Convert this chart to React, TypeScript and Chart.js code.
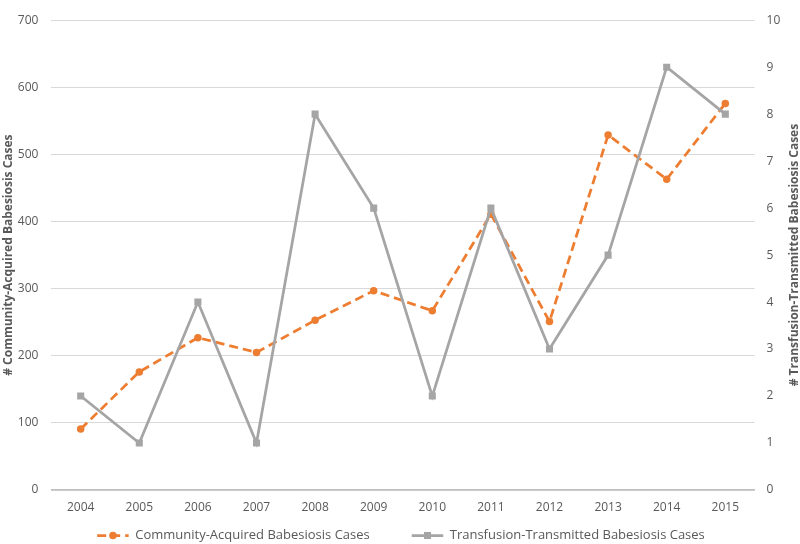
import React, { useEffect, useRef } from "react";
import { Chart, registerables } from "chart.js";

Chart.register(...registerables);

const years = ["2004", "2005", "2006", "2007", "2008", "2009", "2010", "2011", "2012", "2013", "2014", "2015"];
const communityCases = [91, 176, 227, 205, 253, 297, 267, 411, 251, 529, 463, 576];
const transfusionCases = [2, 1, 4, 1, 8, 6, 2, 6, 3, 5, 9, 8];
const leftAxisMax = 700;
const leftAxisStep = 100;
const rightAxisMax = 10;
const rightAxisStep = 1;
const communityLabel = "Community-Acquired Babesiosis Cases";
const transfusionLabel = "Transfusion-Transmitted Babesiosis Cases";
const leftTitle = "# Community-Acquired Babesiosis Cases";
const rightTitle = "# Transfusion-Transmitted Babesiosis Cases";

const ORANGE = "#ED7D31";
const GREY = "#A5A5A5";
const TEXT = "#595959";
const FONT = "'Open Sans', sans-serif";

const decorPlugin = {
  id: "decor",
  afterDraw(chart: any) {
    const ctx = chart.ctx as CanvasRenderingContext2D;
    const y1 = chart.scales.y1;
    // right axis title, reading bottom-to-top
    ctx.save();
    ctx.font = `bold 12px ${FONT}`;
    ctx.fillStyle = TEXT;
    ctx.translate(chart.width - 5, (y1.top + y1.bottom) / 2);
    ctx.rotate(-Math.PI / 2);
    ctx.textAlign = "center";
    ctx.textBaseline = "middle";
    ctx.fillText(rightTitle, 0, 0);
    ctx.restore();

    // legend
    ctx.save();
    ctx.font = `13px ${FONT}`;
    const sampleW = 31.5;
    const textGap = 6.5;
    const itemGap = 42;
    const items = chart.data.datasets.map((ds: any) => ({
      ds,
      w: sampleW + textGap + ctx.measureText(ds.label).width,
    }));
    const total = items.reduce((s: number, it: any) => s + it.w, 0) + itemGap * (items.length - 1);
    let x = (chart.width - total) / 2 + 1;
    const y = chart.height - 8.5;
    items.forEach((it: any) => {
      const ds = it.ds;
      ctx.save();
      ctx.strokeStyle = ds.borderColor;
      ctx.lineWidth = ds.borderWidth;
      ctx.setLineDash(ds.borderDash || []);
      ctx.beginPath();
      ctx.moveTo(x, y);
      ctx.lineTo(x + sampleW, y);
      ctx.stroke();
      ctx.setLineDash([]);
      ctx.fillStyle = ds.pointBackgroundColor;
      const cx = x + sampleW / 2;
      if (ds.pointStyle === "rect") {
        const s = ds.pointRadius * Math.SQRT1_2;
        ctx.fillRect(cx - s, y - s, 2 * s, 2 * s);
      } else {
        ctx.beginPath();
        ctx.arc(cx, y, ds.pointRadius, 0, Math.PI * 2);
        ctx.fill();
      }
      ctx.restore();
      ctx.fillStyle = TEXT;
      ctx.textAlign = "left";
      ctx.textBaseline = "middle";
      ctx.fillText(ds.label, x + sampleW + textGap, y);
      x += it.w + itemGap;
    });
    ctx.restore();
  },
};

export default function App() {
  const ref = useRef<HTMLCanvasElement | null>(null);
  useEffect(() => {
    document.body.style.margin = "0";
    const canvas = ref.current;
    if (!canvas) return;
    const chart = new Chart(canvas, {
      type: "line",
      data: {
        labels: years,
        datasets: [
          {
            label: communityLabel,
            data: communityCases,
            yAxisID: "y",
            borderColor: ORANGE,
            backgroundColor: ORANGE,
            pointBackgroundColor: ORANGE,
            pointBorderColor: ORANGE,
            borderWidth: 2.75,
            borderDash: [9, 5],
            pointStyle: "circle",
            pointRadius: 3.75,
            pointBorderWidth: 0,
            tension: 0,
            order: 1,
          },
          {
            label: transfusionLabel,
            data: transfusionCases,
            yAxisID: "y1",
            borderColor: GREY,
            backgroundColor: GREY,
            pointBackgroundColor: GREY,
            pointBorderColor: GREY,
            borderWidth: 2.75,
            pointStyle: "rect",
            pointRadius: 5,
            pointBorderWidth: 0,
            tension: 0,
            order: 0,
          },
        ],
      } as any,
      options: {
        animation: false,
        responsive: false,
        maintainAspectRatio: false,
        layout: { padding: { top: 5, left: 0, right: 0, bottom: 0 } },
        plugins: {
          legend: { display: false },
          tooltip: { enabled: false },
        },
        scales: {
          x: {
            type: "category",
            offset: true,
            grid: { display: false, drawTicks: false },
            border: { display: true, color: "#BFBFBF", width: 1.5 },
            ticks: { color: TEXT, font: { family: FONT, size: 12 }, padding: 10, maxRotation: 0 },
            afterFit: (s: any) => {
              s.height = 54;
            },
          },
          y: {
            position: "left",
            min: 0,
            max: leftAxisMax,
            grid: { color: "#D9D9D9", lineWidth: 1, drawTicks: false },
            border: { display: false },
            ticks: { stepSize: leftAxisStep, color: TEXT, font: { family: FONT, size: 12 }, padding: 13 },
            title: {
              display: true,
              text: leftTitle,
              color: TEXT,
              font: { family: FONT, size: 12, weight: "bold" },
              padding: { top: 1, bottom: 0 },
            },
            afterFit: (s: any) => {
              s.width = 51.4;
            },
          },
          y1: {
            position: "right",
            min: 0,
            max: rightAxisMax,
            grid: { display: false, drawTicks: false },
            border: { display: false },
            ticks: { stepSize: rightAxisStep, color: TEXT, font: { family: FONT, size: 12 }, padding: 12 },
            afterFit: (s: any) => {
              s.width = 45.4;
            },
          },
        },
      } as any,
      plugins: [decorPlugin],
    });
    return () => chart.destroy();
  }, []);
  return (
    <div style={{ width: 800, height: 544 }}>
      <canvas ref={ref} width={800} height={544} style={{ display: "block", width: 800, height: 544 }} />
    </div>
  );
}
